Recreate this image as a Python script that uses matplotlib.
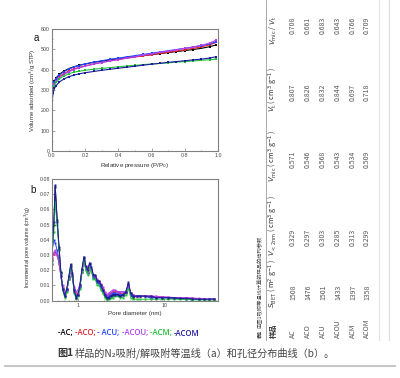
import matplotlib
matplotlib.use('Agg')
import matplotlib.pyplot as plt
from matplotlib.lines import Line2D
from matplotlib.ticker import (MultipleLocator, FixedLocator, FixedFormatter, NullFormatter,
                               LogLocator, FormatStrFormatter)

plt.rcParams['font.family'] = ['Liberation Sans', 'DejaVu Sans']
CJK = ['Noto Sans CJK SC', 'DejaVu Sans']

W, H = 400, 378

# sample names and colours
names = ['AC', 'ACO', 'ACU', 'ACOU', 'ACM', 'ACOM']
colors = ['#000000', '#e8202a', '#2244ff', '#b040f0', '#22c03a', '#1c1c9a']

# (a) N2 isotherms, volume adsorbed (cm3/g STP) vs P/P0
p_rel = [0.00005, 0.0002, 0.001, 0.003, 0.007, 0.015, 0.025, 0.045, 0.07, 0.1,
         0.13, 0.16, 0.2, 0.25, 0.3, 0.35, 0.4, 0.45, 0.5, 0.55,
         0.6, 0.65, 0.7, 0.75, 0.8, 0.85, 0.9, 0.95, 0.99]
iso_ac = [60, 180, 250, 295, 320, 345, 360, 378, 392, 405,
          414, 421, 428, 436, 442, 448, 453, 459, 464, 469,
          474, 479, 484, 489, 494, 499, 505, 513, 522]
iso_aco = [55, 170, 240, 285, 310, 333, 348, 366, 380, 393,
           403, 411, 419, 428, 436, 443, 450, 456, 462, 468,
           474, 480, 486, 492, 498, 505, 512, 522, 534]
iso_acu = [58, 175, 245, 290, 316, 340, 356, 374, 389, 402,
           412, 420, 428, 437, 444, 451, 457, 463, 469, 475,
           481, 487, 493, 499, 505, 511, 518, 527, 538]
iso_acou = [50, 165, 235, 280, 305, 328, 343, 361, 376, 389,
            400, 409, 417, 427, 435, 443, 450, 457, 464, 471,
            478, 485, 491, 498, 505, 512, 520, 531, 546]
iso_acm = [52, 160, 230, 275, 300, 322, 337, 355, 368, 380,
           387, 392, 397, 402, 406, 410, 414, 418, 421, 425,
           428, 431, 434, 437, 440, 443, 446, 449, 452]
iso_acom = [48, 150, 220, 262, 287, 308, 322, 340, 353, 365,
            373, 379, 385, 391, 397, 402, 407, 412, 417, 422,
            427, 431, 436, 440, 444, 448, 452, 457, 464]

# (b) pore size distribution, incremental pore volume (cm3/g) vs diameter (nm)
pore_d = [0.50, 0.53, 0.55, 0.58, 0.61, 0.64, 0.67, 0.71, 0.75, 0.79,
          0.83, 0.87, 0.91, 0.96, 1.01, 1.06, 1.12, 1.18, 1.24, 1.30,
          1.37, 1.44, 1.52, 1.60, 1.68, 1.77, 1.86, 1.96, 2.06, 2.17,
          2.28, 2.40, 2.55, 2.70, 2.90, 3.10, 3.35, 3.60, 3.85, 4.10,
          4.40, 4.80, 5.30, 6.00, 7.00, 8.00, 9.50, 11.0, 13.0, 15.0,
          18.0, 21.0, 25.0, 29.0, 33.0, 37.0]
psd_ac = [0.024, 0.050, 0.075, 0.052, 0.034, 0.018, 0.008, 0.003, 0.007, 0.015,
          0.023, 0.017, 0.006, 0.002, 0.004, 0.009, 0.020, 0.028, 0.022, 0.019,
          0.024, 0.021, 0.016, 0.016, 0.012, 0.012, 0.009, 0.006, 0.003, 0.001,
          0.002, 0.003, 0.004, 0.004, 0.004, 0.003, 0.004, 0.005, 0.011, 0.004,
          0.002, 0.003, 0.003, 0.003, 0.002, 0.002, 0.002, 0.002, 0.0015, 0.0015,
          0.001, 0.001, 0.001, 0.0008, 0.0007, 0.0008]
psd_aco = [0.028, 0.031, 0.032, 0.030, 0.024, 0.016, 0.009, 0.004, 0.008, 0.015,
           0.020, 0.016, 0.008, 0.004, 0.005, 0.010, 0.019, 0.026, 0.021, 0.018,
           0.022, 0.020, 0.016, 0.015, 0.013, 0.012, 0.010, 0.008, 0.005, 0.003,
           0.004, 0.005, 0.006, 0.006, 0.006, 0.005, 0.005, 0.006, 0.010, 0.005,
           0.003, 0.003, 0.003, 0.003, 0.003, 0.0025, 0.0025, 0.002, 0.002, 0.002,
           0.0018, 0.0015, 0.0012, 0.001, 0.001, 0.001]
psd_acu = [0.032, 0.040, 0.038, 0.033, 0.026, 0.016, 0.008, 0.003, 0.007, 0.014,
           0.021, 0.016, 0.007, 0.003, 0.004, 0.009, 0.019, 0.027, 0.021, 0.018,
           0.023, 0.020, 0.015, 0.015, 0.012, 0.011, 0.009, 0.006, 0.004, 0.002,
           0.003, 0.004, 0.005, 0.005, 0.005, 0.004, 0.004, 0.006, 0.010, 0.004,
           0.003, 0.003, 0.003, 0.003, 0.002, 0.002, 0.002, 0.002, 0.0015, 0.0015,
           0.0012, 0.001, 0.001, 0.0008, 0.0008, 0.0008]
psd_acou = [0.029, 0.031, 0.033, 0.030, 0.025, 0.017, 0.010, 0.005, 0.008, 0.014,
            0.019, 0.016, 0.009, 0.006, 0.007, 0.011, 0.020, 0.026, 0.022, 0.019,
            0.023, 0.021, 0.017, 0.016, 0.014, 0.013, 0.011, 0.009, 0.006, 0.004,
            0.005, 0.006, 0.007, 0.007, 0.006, 0.006, 0.006, 0.006, 0.009, 0.005,
            0.004, 0.003, 0.003, 0.003, 0.003, 0.003, 0.0025, 0.0025, 0.002, 0.002,
            0.002, 0.0018, 0.0015, 0.0012, 0.0012, 0.001]
psd_acm = [0.026, 0.045, 0.065, 0.050, 0.033, 0.018, 0.007, 0.002, 0.006, 0.014,
           0.022, 0.016, 0.005, 0.001, 0.003, 0.008, 0.019, 0.027, 0.020, 0.017,
           0.022, 0.019, 0.014, 0.014, 0.010, 0.010, 0.007, 0.005, 0.002, 0.0005,
           0.001, 0.002, 0.002, 0.003, 0.003, 0.002, 0.002, 0.004, 0.008, 0.002,
           0.001, 0.001, 0.001, 0.001, 0.001, 0.001, 0.001, 0.001, 0.001, 0.0008,
           0.0008, 0.0006, 0.0005, 0.0005, 0.0005, 0.0005]
psd_acom = [0.027, 0.052, 0.076, 0.053, 0.035, 0.019, 0.008, 0.003, 0.008, 0.016,
            0.024, 0.018, 0.007, 0.002, 0.004, 0.010, 0.021, 0.029, 0.023, 0.020,
            0.025, 0.022, 0.017, 0.017, 0.013, 0.013, 0.010, 0.007, 0.004, 0.002,
            0.002, 0.003, 0.004, 0.004, 0.004, 0.003, 0.004, 0.006, 0.012, 0.005,
            0.003, 0.003, 0.003, 0.003, 0.003, 0.002, 0.002, 0.002, 0.002, 0.0015,
            0.0015, 0.0012, 0.001, 0.001, 0.001, 0.0012]

# table 1 (rotated in the picture)
tab_title = '由图1吸附等温线计算的样品的结构参数'
tab_head = ['样品',
            r'$S_{\mathrm{BET}}$ ( m$^2$ g$^{-1}$ )',
            r'$V_{\mathrm{<2nm}}$ ( cm$^3$ g$^{-1}$ )',
            r'$V_{\mathrm{mic}}$ ( cm$^3$ g$^{-1}$ )',
            r'$V_{\mathrm{t}}$ ( cm$^3$ g$^{-1}$ )',
            r'$V_{\mathrm{mic}}$ / $V_{\mathrm{t}}$']
s_bet = ['1508', '1476', '1501', '1433', '1397', '1358']
v_lt2 = ['0.329', '0.297', '0.303', '0.285', '0.313', '0.299']
v_mic = ['0.571', '0.546', '0.568', '0.543', '0.534', '0.509']
v_t = ['0.807', '0.826', '0.832', '0.844', '0.697', '0.718']
v_ratio = ['0.708', '0.661', '0.683', '0.643', '0.766', '0.709']

caption = '样品的N₂吸附/解吸附等温线（a）和孔径分布曲线（b）。'

fig = plt.figure(figsize=(W / 100, H / 100), dpi=100)
fig.patch.set_facecolor('white')


def fx(x):
    return x / W


def fy(y):
    return 1 - y / H


def style_axes(ax):
    for s in ax.spines.values():
        s.set_color('#808080')
        s.set_linewidth(0.8)
    ax.tick_params(which='both', direction='in', colors='#808080',
                   labelcolor='#444444', labelsize=3.8, pad=1.5, width=0.5)
    ax.tick_params(which='major', length=2)
    ax.tick_params(which='minor', length=1)


# panel a
ax1 = fig.add_axes([fx(52), fy(151), 166 / W, 122 / H])
iso = [iso_ac, iso_aco, iso_acu, iso_acou, iso_acm, iso_acom]
for vals, c in zip(iso, colors):
    ax1.plot(p_rel, vals, color=c, lw=0.8, marker='s', ms=1.8, mew=0)
ax1.set_xlim(0, 1.0)
ax1.set_ylim(0, 600)
ax1.xaxis.set_major_locator(MultipleLocator(0.2))
ax1.xaxis.set_minor_locator(MultipleLocator(0.1))
ax1.yaxis.set_major_locator(MultipleLocator(100))
ax1.yaxis.set_minor_locator(MultipleLocator(50))
ax1.xaxis.set_major_formatter(FormatStrFormatter('%.1f'))
style_axes(ax1)
ax1.set_xlabel('Relative pressure (P/P$_0$)', fontsize=4.5, color='#333333', labelpad=2)
ax1.set_ylabel('Volume adsorbed (cm$^3$/g STP)', fontsize=4.3, color='#333333', labelpad=2)

# panel b
ax2 = fig.add_axes([fx(52), fy(300.7), 166 / W, 121.7 / H])
psd = [psd_ac, psd_aco, psd_acu, psd_acou, psd_acm, psd_acom]
for vals, c in zip(psd, colors):
    ax2.plot(pore_d, vals, color=c, lw=0.7, marker='s', ms=1.4, mew=0)
ax2.set_xscale('log')
ax2.set_xlim(0.505, 41.7)
ax2.set_ylim(0, 0.08)
ax2.xaxis.set_major_locator(FixedLocator([1, 10]))
ax2.xaxis.set_major_formatter(FixedFormatter(['1', '10']))
ax2.xaxis.set_minor_locator(LogLocator(base=10, subs=range(2, 10)))
ax2.xaxis.set_minor_formatter(NullFormatter())
ax2.yaxis.set_major_locator(MultipleLocator(0.01))
ax2.yaxis.set_major_formatter(FormatStrFormatter('%.2f'))
style_axes(ax2)
ax2.set_xlabel('Pore diameter (nm)', fontsize=4.5, color='#333333', labelpad=2)
ax2.set_ylabel('Incremental pore volume (cm$^3$/g)', fontsize=4.0, color='#333333', labelpad=2)
ax2.yaxis.set_label_coords(-0.115, 0.44)

# panel letters
fig.text(fx(36), fy(38), 'a', fontsize=7, color='#111111', ha='center', va='center')
fig.text(fx(33), fy(190), 'b', fontsize=7, color='#111111', ha='center', va='center')

r = fig.canvas.get_renderer()

# legend line under panel b
x = 58
for i, (n, c) in enumerate(zip(names, colors)):
    s = '-' + n + ('; ' if i < len(names) - 1 else '')
    if n == 'ACU':
        s = '- ACU; '
    t = fig.text(fx(x), fy(333), s, color=c, fontsize=5.6, ha='left', va='center',
                 fontweight='semibold', family=['Open Sans', 'DejaVu Sans'])
    x = t.get_window_extent(r).x1

# table, rotated by 90 degrees
tcol = '#555555'
t = fig.text(fx(260), fy(338), '表1', rotation=90, ha='center', va='bottom',
             fontsize=3.8, fontweight='bold', color='#333333', family=CJK)
top = t.get_window_extent(r).y1
fig.text(fx(260), top / H + 1.5 / H, tab_title, rotation=90, ha='center', va='bottom',
         fontsize=3.8, color='#444444', family=CJK)

head_y = [338, 308, 256, 182, 112, 45]
val_y = [338, 300, 246, 168, 101, 34]
row_x = [293, 308, 323, 338, 353, 367]

for h, yy in zip(tab_head, head_y):
    fig.text(fx(273), fy(yy), h, rotation=90, ha='center', va='bottom', fontsize=5.2,
             color='#333333', family=CJK, fontweight='bold' if h == '样品' else 'normal')

cols = [names, s_bet, v_lt2, v_mic, v_t, v_ratio]
for col, yy in zip(cols, val_y):
    for v, xx in zip(col, row_x):
        fig.text(fx(xx), fy(yy), v, rotation=90, ha='center', va='bottom', fontsize=5,
                 color=tcol, family=CJK)

fig.add_artist(Line2D([fx(266), fx(266)], [fy(0), fy(340)], color='#9a9a9a', lw=0.6))
fig.add_artist(Line2D([fx(379), fx(379)], [fy(0), fy(340)], color='#e2e2e2', lw=0.8))
fig.add_artist(Line2D([fx(389), fx(389)], [fy(0), fy(340)], color='#dddddd', lw=0.8))

# caption
t = fig.text(fx(57), fy(353), '图1', fontsize=7.3, fontweight='bold', color='#333333',
             ha='left', va='center', family=CJK)
x = t.get_window_extent(r).x1 + 2
fig.text(fx(x), fy(353), caption, fontsize=7.3, color='#444444', ha='left', va='center',
         family=CJK)

fig.add_artist(Line2D([fx(5), fx(395)], [fy(366), fy(366)], color='#c8c8c8', lw=1.5))

fig.savefig('out.png', dpi=100, facecolor='white')
